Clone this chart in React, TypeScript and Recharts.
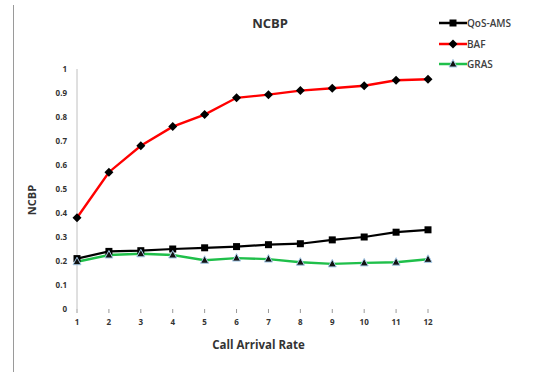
import { LineChart, Line, XAxis, YAxis, Legend } from "recharts"

const rates = [1, 2, 3, 4, 5, 6, 7, 8, 9, 10, 11, 12]
const qosAms = [0.21, 0.24, 0.243, 0.25, 0.255, 0.26, 0.268, 0.272, 0.288, 0.3, 0.32, 0.33]
const baf = [0.38, 0.57, 0.68, 0.76, 0.81, 0.88, 0.893, 0.91, 0.92, 0.93, 0.953, 0.957]
const gras = [0.197, 0.225, 0.23, 0.225, 0.203, 0.212, 0.208, 0.195, 0.188, 0.192, 0.195, 0.207]
const yTicks = [0, 0.1, 0.2, 0.3, 0.4, 0.5, 0.6, 0.7, 0.8, 0.9, 1]

const data = rates.map((r, i) => ({ rate: r, qos: qosAms[i], baf: baf[i], gras: gras[i] }))

const FONT = "'Open Sans', 'Liberation Sans', sans-serif"

function marker(kind, cx, cy, key) {
  if (kind === "square") {
    return <rect key={key} x={cx - 3.5} y={cy - 3.5} width={7} height={7} fill="#000" />
  }
  if (kind === "diamond") {
    return <path key={key} d={`M${cx},${cy - 4.5}L${cx + 4.5},${cy}L${cx},${cy + 4.5}L${cx - 4.5},${cy}Z`} fill="#000" />
  }
  return (
    <path key={key} d={`M${cx},${cy - 4.5}L${cx + 4},${cy + 3}L${cx - 4},${cy + 3}Z`}
      fill="#111" stroke="#a9cbe8" strokeWidth={1} />
  )
}

const series = [
  { key: "qos", name: "QoS-AMS", color: "#000000", shape: "square", width: 2.2 },
  { key: "baf", name: "BAF", color: "#ff0000", shape: "diamond", width: 2.4 },
  { key: "gras", name: "GRAS", color: "#1fbf4a", shape: "triangle", width: 2.4 },
]

function LegendBox() {
  return (
    <div style={{ fontFamily: FONT }}>
      {series.map((s) => (
        <div key={s.key} style={{ display: "flex", alignItems: "center", height: 20.5 }}>
          <svg width={28} height={12}>
            <line x1={0} y1={6} x2={28} y2={6} stroke={s.color} strokeWidth={2.5} />
            {marker(s.shape, 14, 6, s.key)}
          </svg>
          <span style={{ fontSize: 10, color: "#404040", fontWeight: 600, marginLeft: 0 }}>{s.name}</span>
        </div>
      ))}
    </div>
  )
}

export default function App() {
  return (
    <div style={{ position: "absolute", left: 0, top: 0, width: 549, height: 372, background: "#fff" }}>
      <div style={{ position: "absolute", left: 13, top: 5, width: 1, height: 367, background: "#9a9a9a" }} />
      <div style={{ position: "absolute", left: 0, top: 14, width: 540, textAlign: "center", fontFamily: FONT, fontWeight: 700, fontSize: 13, color: "#333" }}>
        NCBP
      </div>
      <LineChart width={549} height={372} data={data} margin={{ top: 69, right: 121, bottom: 23, left: 0 }}>
        <XAxis
          dataKey="rate"
          type="number"
          domain={[1, 12]}
          ticks={rates}
          axisLine={false}
          tickSize={4}
          tickMargin={6}
          height={40}
          tickLine={{ stroke: "#999" }}
          tick={{ fontSize: 8, fill: "#333", fontWeight: 700, fontFamily: FONT }}
          label={{ value: "Call Arrival Rate", position: "insideBottom", offset: 0, dx: 6, style: { fontSize: 11.5, fontWeight: 700, fill: "#333", fontFamily: FONT } }}
        />
        <YAxis
          domain={[0, 1]}
          ticks={yTicks}
          width={77}
          tickLine={false}
          tickSize={8}
          tickMargin={2}
          axisLine={{ stroke: "#c0c0c0" }}
          tick={{ fontSize: 8, fill: "#333", fontWeight: 700, fontFamily: FONT }}
          label={{
            content: () => (
              <text x={36} y={200} transform="rotate(-90 36 200)" textAnchor="middle"
                style={{ fontSize: 11, fontWeight: 700, fill: "#333", fontFamily: FONT }}>
                NCBP
              </text>
            ),
          }}
        />
        <Legend
          layout="horizontal"
          verticalAlign="middle"
          align="center"
          wrapperStyle={{ top: 13, left: 439, width: 110 }}
          content={() => <LegendBox />}
        />
        {series.map((s) => (
          <Line
            key={s.key}
            dataKey={s.key}
            name={s.name}
            stroke={s.color}
            strokeWidth={s.width}
            isAnimationActive={false}
            dot={(p) => marker(s.shape, p.cx, p.cy, `${s.key}-${p.index}`)}
            activeDot={false}
          />
        ))}
      </LineChart>
    </div>
  )
}
